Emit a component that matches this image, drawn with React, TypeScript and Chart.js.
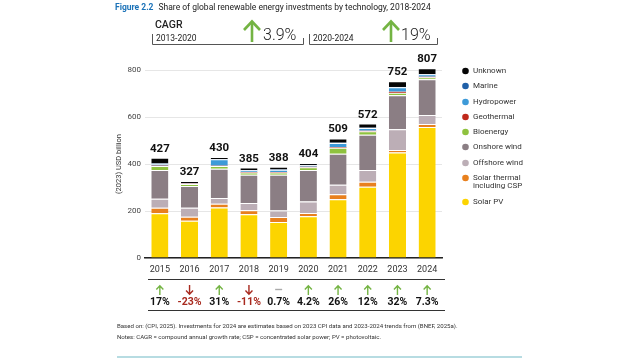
import React, { useEffect, useRef } from 'react';
import { Chart, registerables } from 'chart.js';

Chart.register(...registerables);

const YEARS = ['2015', '2016', '2017', '2018', '2019', '2020', '2021', '2022', '2023', '2024'];
const SOLAR_PV = [190, 158, 215, 186, 153, 178, 250, 303, 449, 557];
const SOLAR_THERMAL = [24, 18, 16, 17, 21, 14, 21, 22, 11, 13];
const OFFSHORE_WIND = [38, 38, 24, 31, 28, 48, 41, 49, 88, 39];
const ONSHORE_WIND = [123, 92, 125, 120, 152, 134, 132, 150, 145, 152];
const BIOENERGY = [16, 9, 12, 10, 10, 12, 25, 15, 10, 8];
const GEOTHERMAL = [2, 1, 1, 2, 2, 2, 2, 2, 4, 2];
const HYDROPOWER = [8, 3, 27, 7, 10, 7, 18, 12, 20, 11];
const MARINE = [1, 0, 1, 1, 1, 1, 1, 1, 1, 1];
const UNKNOWN = [25, 8, 9, 11, 11, 8, 19, 18, 24, 24];

const GROWTH_LABELS = ['17%', '-23%', '31%', '-11%', '0.7%', '4.2%', '26%', '12%', '32%', '7.3%'];
const GROWTH_DIR = ['up', 'down', 'up', 'down', 'flat', 'up', 'up', 'up', 'up', 'up'];
const Y_TICKS = [0, 200, 400, 600, 800];

const TITLE_FIG = 'Figure 2.2';
const TITLE_TEXT = 'Share of global renewable energy investments by technology, 2018-2024';
const CAGR_PERIODS = ['2013-2020', '2020-2024'];
const CAGR_VALUES = ['3.9%', '19%'];
const FOOT_1 = 'Based on: (CPI, 2025). Investments for 2024 are estimates based on 2023 CPI data and 2023-2024 trends from (BNEF, 2025a).';
const FOOT_2 = 'Notes: CAGR = compound annual growth rate; CSP = concentrated solar power; PV = photovoltaic.';

const FONT = 'Roboto, "Open Sans", sans-serif';
const GREEN = '#74b443';
const RED = '#a82a1f';

const SERIES = [
  { label: ['Solar PV'], data: SOLAR_PV, color: '#fcd400', border: true },
  { label: ['Solar thermal', 'including CSP'], data: SOLAR_THERMAL, color: '#e8801e', border: true },
  { label: ['Offshore wind'], data: OFFSHORE_WIND, color: '#bcaeb6', border: true },
  { label: ['Onshore wind'], data: ONSHORE_WIND, color: '#8b7e84', border: true },
  { label: ['Bioenergy'], data: BIOENERGY, color: '#8fc23f', border: true },
  { label: ['Geothermal'], data: GEOTHERMAL, color: '#c0281b', border: false },
  { label: ['Hydropower'], data: HYDROPOWER, color: '#3d9ad8', border: true },
  { label: ['Marine'], data: MARINE, color: '#2060a8', border: false },
  { label: ['Unknown'], data: UNKNOWN, color: '#050505', border: true },
];

const overlay = {
  id: 'overlay',
  afterDraw(chart: any) {
    const ctx = chart.ctx as CanvasRenderingContext2D;
    const xs = chart.scales.x;
    const ys = chart.scales.y;
    ctx.save();

    // Title
    ctx.textBaseline = 'middle';
    ctx.textAlign = 'left';
    ctx.font = `bold 8.5px ${FONT}`;
    ctx.fillStyle = '#1b72b8';
    ctx.fillText(TITLE_FIG, 115, 8);
    const fw = ctx.measureText(TITLE_FIG).width;
    ctx.font = `8.5px ${FONT}`;
    ctx.fillStyle = '#222';
    ctx.fillText(TITLE_TEXT, 115 + fw + 5, 8);

    // CAGR header
    ctx.font = `500 10.5px ${FONT}`;
    ctx.fillStyle = '#222';
    ctx.fillText('CAGR', 155, 25);
    const brackets = [
      { l: 152, r: 303, arrow: 252, val: 263 },
      { l: 309, r: 437, arrow: 391, val: 401 },
    ];
    brackets.forEach((b, i) => {
      ctx.strokeStyle = '#555';
      ctx.lineWidth = 1;
      ctx.beginPath();
      ctx.moveTo(b.l + 0.5, 34);
      ctx.lineTo(b.l + 0.5, 44.5);
      ctx.lineTo(b.r + 0.5, 44.5);
      ctx.lineTo(b.r + 0.5, 38);
      ctx.stroke();
      ctx.font = `8.5px ${FONT}`;
      ctx.fillStyle = '#222';
      ctx.fillText(CAGR_PERIODS[i], b.l + 4, 38.5);
      // arrow
      ctx.strokeStyle = GREEN;
      ctx.lineWidth = 2.6;
      ctx.lineCap = 'butt';
      ctx.beginPath();
      ctx.moveTo(b.arrow, 42);
      ctx.lineTo(b.arrow, 22);
      ctx.stroke();
      ctx.beginPath();
      ctx.moveTo(b.arrow - 8, 30);
      ctx.lineTo(b.arrow, 21.5);
      ctx.lineTo(b.arrow + 8, 30);
      ctx.stroke();
      ctx.font = `300 16px ${FONT}`;
      ctx.fillStyle = '#222';
      ctx.fillText(CAGR_VALUES[i], b.val, 35.5);
    });

    // Y axis title
    ctx.save();
    ctx.translate(119, ys.getPixelForValue(400));
    ctx.rotate(-Math.PI / 2);
    ctx.textAlign = 'center';
    ctx.font = `7.5px ${FONT}`;
    ctx.fillStyle = '#333';
    ctx.fillText('(2023) USD billion', 0, 0);
    ctx.restore();

    // Totals above bars
    ctx.textAlign = 'center';
    ctx.textBaseline = 'alphabetic';
    ctx.font = `bold 11.5px ${FONT}`;
    ctx.fillStyle = '#111';
    YEARS.forEach((_, i) => {
      const total = SERIES.reduce((s, d) => s + d.data[i], 0);
      const px = xs.getPixelForValue(i);
      ctx.fillText(String(total), px, ys.getPixelForValue(total) - 6);
    });

    // Growth table
    const left = chart.chartArea.left + 3;
    const right = chart.chartArea.right + 3;
    ctx.strokeStyle = '#333';
    ctx.lineWidth = 1;
    [279.5, 310.5].forEach((yy) => {
      ctx.beginPath();
      ctx.moveTo(left, yy);
      ctx.lineTo(right, yy);
      ctx.stroke();
    });
    YEARS.forEach((_, i) => {
      const px = xs.getPixelForValue(i);
      const dir = GROWTH_DIR[i];
      ctx.lineWidth = 1.4;
      if (dir === 'up') {
        ctx.strokeStyle = GREEN;
        ctx.beginPath();
        ctx.moveTo(px, 295);
        ctx.lineTo(px, 286);
        ctx.moveTo(px - 3.5, 289.5);
        ctx.lineTo(px, 285.8);
        ctx.lineTo(px + 3.5, 289.5);
        ctx.stroke();
      } else if (dir === 'down') {
        ctx.strokeStyle = RED;
        ctx.beginPath();
        ctx.moveTo(px, 285);
        ctx.lineTo(px, 294);
        ctx.moveTo(px - 3.5, 290.5);
        ctx.lineTo(px, 294.2);
        ctx.lineTo(px + 3.5, 290.5);
        ctx.stroke();
      } else {
        ctx.strokeStyle = '#aaa';
        ctx.beginPath();
        ctx.moveTo(px - 3.5, 289.5);
        ctx.lineTo(px + 3.5, 289.5);
        ctx.stroke();
      }
      ctx.textBaseline = 'middle';
      ctx.font = `bold 10.5px ${FONT}`;
      ctx.fillStyle = dir === 'down' ? RED : '#111';
      ctx.fillText(GROWTH_LABELS[i], px, 302);
    });

    // Legend
    ctx.textAlign = 'left';
    ctx.textBaseline = 'middle';
    ctx.font = `8px ${FONT}`;
    const legendY = [202, 178, 163, 147, 132, 117, 102, 86, 71];
    SERIES.forEach((s, i) => {
      const yy = legendY[i];
      ctx.fillStyle = s.color;
      ctx.beginPath();
      ctx.arc(465.5, yy, 3.3, 0, Math.PI * 2);
      ctx.fill();
      ctx.fillStyle = '#333';
      s.label.forEach((t, k) => ctx.fillText(t, 473, yy + k * 8));
    });

    // Footer
    ctx.font = `6.1px ${FONT}`;
    ctx.fillStyle = '#333';
    ctx.fillText(FOOT_1, 117, 326);
    ctx.fillText(FOOT_2, 117, 337);
    ctx.strokeStyle = '#9fd0d8';
    ctx.lineWidth = 1.5;
    ctx.beginPath();
    ctx.moveTo(117, 357);
    ctx.lineTo(522, 357);
    ctx.stroke();

    ctx.restore();
  },
};

export default function App() {
  const ref = useRef<HTMLCanvasElement | null>(null);

  useEffect(() => {
    if (!ref.current) return;
    const chart = new Chart(ref.current, {
      type: 'bar',
      data: {
        labels: YEARS,
        datasets: SERIES.map((s) => ({
          label: s.label.join(' '),
          data: s.data,
          backgroundColor: s.color,
          borderColor: '#ffffff',
          borderWidth: s.border ? { top: 1, right: 0, bottom: 0, left: 0 } : 0,
          borderSkipped: 'start',
          barPercentage: 0.9,
          categoryPercentage: 0.64,
          clip: false as any,
        })),
      },
      options: {
        responsive: false,
        maintainAspectRatio: false,
        animation: false,
        devicePixelRatio: 1,
        layout: { padding: { top: 70, right: 198, left: 0, bottom: 0 } },
        plugins: {
          legend: { display: false },
          tooltip: { enabled: false },
          title: { display: false },
        },
        scales: {
          x: {
            stacked: true,
            grid: { display: false, drawTicks: false },
            border: { display: true, color: '#222', width: 1.5 },
            ticks: {
              padding: 6,
              color: '#333',
              font: { family: FONT, size: 9 },
            },
            afterFit: (s: any) => {
              s.height = 102;
            },
          },
          y: {
            stacked: true,
            min: 0,
            max: 800,
            afterBuildTicks: (s: any) => {
              s.ticks = Y_TICKS.map((v) => ({ value: v }));
            },
            grid: { color: '#e6e6e6', lineWidth: 1, drawTicks: false },
            border: { display: false },
            ticks: {
              padding: 4,
              color: '#444',
              font: { family: FONT, size: 8 },
            },
            afterFit: (s: any) => {
              s.width = 145;
            },
          },
        },
      },
      plugins: [overlay],
    });
    return () => chart.destroy();
  }, []);

  return (
    <div style={{ position: 'fixed', left: 0, top: 0, width: 640, height: 360, background: '#fff' }}>
      <canvas ref={ref} width={640} height={360} style={{ display: 'block', width: 640, height: 360 }} />
    </div>
  );
}
